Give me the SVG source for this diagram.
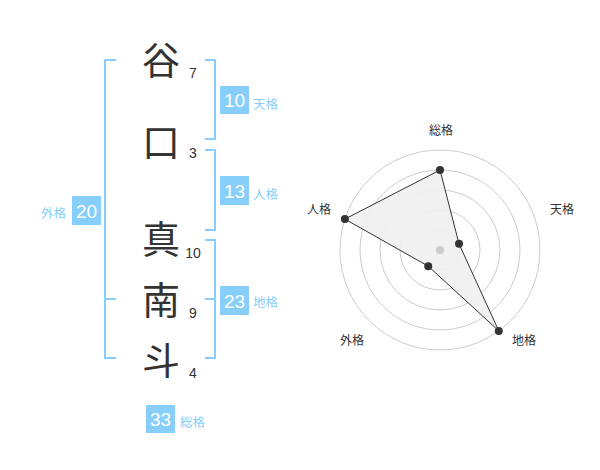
<svg xmlns="http://www.w3.org/2000/svg" width="600" height="470" viewBox="0 0 600 470">
<style>
.kanji{font-family:"Noto Sans CJK JP","Noto Sans",sans-serif;font-size:38px;fill:#333;text-anchor:middle}
.num{font-family:"Liberation Sans",Arial,sans-serif;font-size:14px;fill:#333;text-anchor:middle}
.box{fill:#87cefa}
.bnum{font-family:"Liberation Sans",Arial,sans-serif;font-size:19px;fill:#fff;text-anchor:middle}
.lab{font-family:"Noto Sans CJK JP","Noto Sans",sans-serif;font-size:12.5px;fill:#87cefa}
.br{fill:none;stroke:#87cefa;stroke-width:2}
.ring{fill:none;stroke:#ccc;stroke-width:1}
.rlab{font-family:"Noto Sans CJK JP","Noto Sans",sans-serif;font-size:12px;fill:#333;text-anchor:middle}
.pt{fill:#333}
</style>
<rect width="600" height="470" fill="#fff"/>
<g id="connectors">
<path class="br" d="M116,60 H105 V358 H116 M105,299 H116"/>
<path class="br" d="M205,60 H215 V139 H205"/>
<path class="br" d="M205,150 H215 V230 H205"/>
<path class="br" d="M205,240 H215 V358 H205 M205,299 H215"/>
</g>
<g id="char-1"><text class="kanji" x="161" y="74">谷</text><text class="num" x="193" y="78">7</text></g>
<g id="char-2"><text class="kanji" x="161" y="156">口</text><text class="num" x="193" y="158">3</text></g>
<g id="char-3"><text class="kanji" x="161" y="253">真</text><text class="num" x="193" y="258">10</text></g>
<g id="char-4"><text class="kanji" x="161" y="314">南</text><text class="num" x="193" y="318">9</text></g>
<g id="char-5"><text class="kanji" x="161" y="374">斗</text><text class="num" x="193" y="378">4</text></g>
<g id="tenkaku"><rect class="box" x="220" y="86" width="29" height="28"/><text class="bnum" x="234.5" y="107">10</text><text class="lab" x="253" y="108.5">天格</text></g>
<g id="jinkaku"><rect class="box" x="220" y="176" width="29" height="29"/><text class="bnum" x="234.5" y="197.5">13</text><text class="lab" x="253" y="199">人格</text></g>
<g id="chikaku"><rect class="box" x="220" y="286" width="29" height="29"/><text class="bnum" x="234.5" y="307.5">23</text><text class="lab" x="253" y="307">地格</text></g>
<g id="gaikaku"><rect class="box" x="72" y="196" width="29" height="29"/><text class="bnum" x="86.5" y="217.5">20</text><text class="lab" x="66" y="217.5" text-anchor="end">外格</text></g>
<g id="soukaku"><rect class="box" x="146" y="405" width="29" height="28"/><text class="bnum" x="160.5" y="426">33</text><text class="lab" x="180" y="427">総格</text></g>
<g id="radar">
<circle class="ring" cx="440" cy="250" r="20"/>
<circle class="ring" cx="440" cy="250" r="40"/>
<circle class="ring" cx="440" cy="250" r="60"/>
<circle class="ring" cx="440" cy="250" r="80"/>
<circle class="ring" cx="440" cy="250" r="100"/>
<polygon points="440,170 459.02,243.82 498.78,330.90 428.24,266.18 344.90,219.10" fill="#f0f0f0" fill-opacity="0.9" stroke="#333" stroke-width="1"/>
<circle cx="440" cy="250" r="4" fill="#ccc"/>
<circle class="pt" cx="440" cy="170" r="4"/>
<circle class="pt" cx="459.02" cy="243.82" r="4"/>
<circle class="pt" cx="498.78" cy="330.90" r="4"/>
<circle class="pt" cx="428.24" cy="266.18" r="4"/>
<circle class="pt" cx="344.90" cy="219.10" r="4"/>
<text class="rlab" x="441" y="135">総格</text>
<text class="rlab" x="562" y="213.5">天格</text>
<text class="rlab" x="524" y="344.5">地格</text>
<text class="rlab" x="352" y="344.5">外格</text>
<text class="rlab" x="319" y="213.5">人格</text>
</g>
</svg>
